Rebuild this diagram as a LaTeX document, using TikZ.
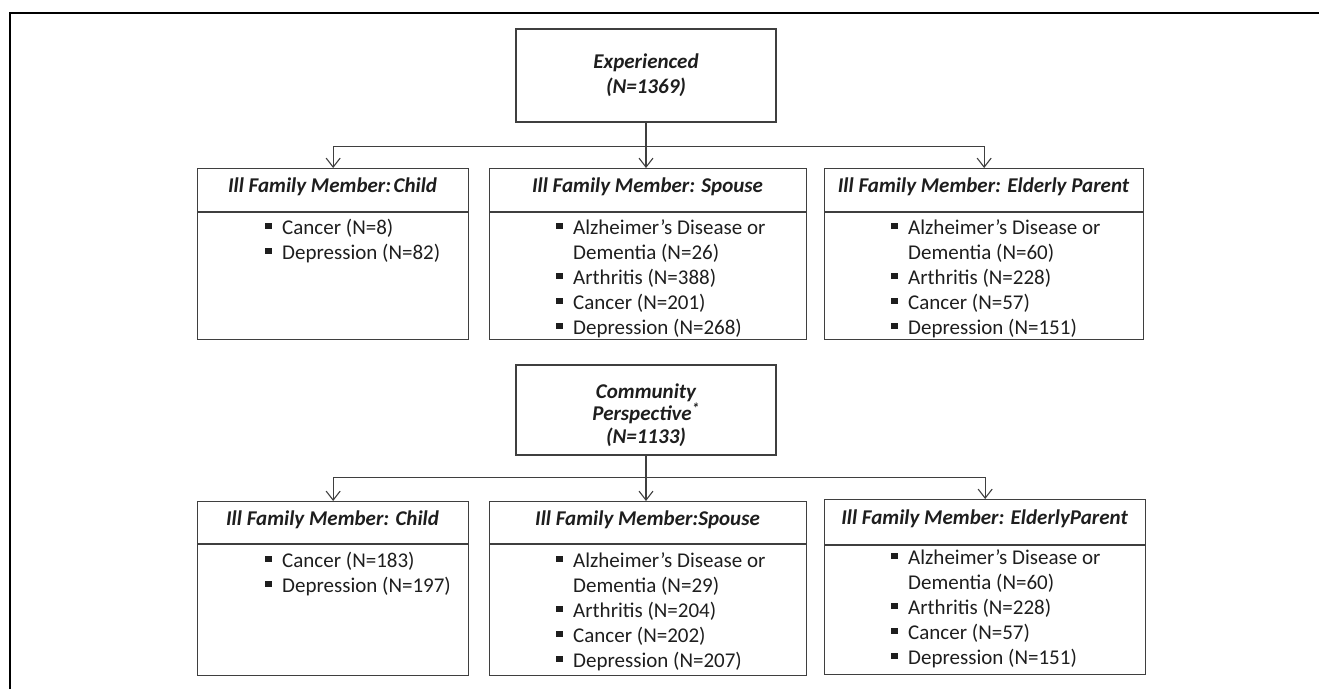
\documentclass[tikz,border=0pt]{standalone}
\usepackage{fontspec}
\setmainfont{Carlito}
\usetikzlibrary{arrows.meta,positioning}
\definecolor{boxgray}{HTML}{3F3F3F}
\definecolor{txtgray}{HTML}{1E1E1E}
% square bullet with hanging indent
\newcommand{\sqb}{\strut\makebox[17pt][l]{\rule[5.5pt]{6.5pt}{6.5pt}}}
\newcommand{\itm}[1]{\sqb#1}
\newcommand{\cont}[1]{\strut\hspace*{17pt}#1}

\begin{document}
\begin{tikzpicture}[
    x=1pt,y=-1pt,
    every node/.style={text=txtgray,font=\fontsize{21}{25}\selectfont},
    topbox/.style={rectangle,draw=boxgray,line width=1.3pt,inner sep=0pt,
                   minimum width=260pt,align=center,
                   font=\fontsize{21}{25}\selectfont\bfseries\itshape},
    toptext/.style={inner sep=0pt,align=center,
                    font=\fontsize{21}{22.5}\selectfont\bfseries\itshape},
    grpbox/.style={rectangle,draw=boxgray,line width=1.3pt,inner sep=0pt,
                   anchor=north west},
    head/.style={anchor=base,inner sep=0pt,
                 font=\fontsize{21}{25}\selectfont\bfseries\itshape},
    items/.style={anchor=north west,inner sep=0pt,align=left},
    sep/.style={draw=boxgray,line width=1.3pt},
    link/.style={draw=boxgray,line width=1.1pt},
    arr/.style={link,-{Straight Barb[length=9pt,width=14pt,line width=1.1pt]}}
  ]
    \useasboundingbox (0,0) rectangle (1319,689);

    % outer frame
    \draw[line width=2.6pt,black] (10,689) -- (10,13) -- (1319,13);

    % Experienced group
    \node[topbox,minimum height=93pt] (exp) at (646,75.5)
      {Experienced\\(N=1369)};

    \node[grpbox,minimum width=271pt,minimum height=171pt] (chA) at (197,168) {};
    \node[grpbox,minimum width=317pt,minimum height=171pt] (spA) at (489,168) {};
    \node[grpbox,minimum width=319pt,minimum height=171pt] (elA) at (824,168) {};

    \draw[sep] (chA.north west) ++(0,44) -- ++(271,0);
    \draw[sep] (spA.north west) ++(0,44) -- ++(317,0);
    \draw[sep] (elA.north west) ++(0,44) -- ++(319,0);

    \node[head] (chAh) at (332.5,192) {Ill Family Member:\hspace{0.12em}Child};
    \node[head] (spAh) at (647.5,192) {Ill Family Member: Spouse};
    \node[head] (elAh) at (983.5,192) {Ill Family Member: Elderly Parent};

    \node[items] (chAi) at (265,217)
      {\itm{Cancer (N=8)}\\\itm{Depression (N=82)}};
    \node[items] (spAi) at (556,217)
      {\itm{Alzheimer’s Disease or}\\\cont{Dementia (N=26)}\\
       \itm{Arthritis (N=388)}\\\itm{Cancer (N=201)}\\\itm{Depression (N=268)}};
    \node[items] (elAi) at (891,217)
      {\itm{Alzheimer’s Disease or}\\\cont{Dementia (N=60)}\\
       \itm{Arthritis (N=228)}\\\itm{Cancer (N=57)}\\\itm{Depression (N=151)}};

    \coordinate[below=24pt of exp.south] (busA);
    \draw[arr] (exp.south) -- (exp.south |- spA.north);
    \draw[arr] (busA) -| (chA.north);
    \draw[arr] (busA) -| (elA.north);

    % Community group
    \node[topbox,minimum height=90pt] (com) at (646,410) {};
    \node[toptext] (comtxt) at (646,415)
      {Community\\Perspective\textsuperscript{*}\\(N=1133)};

    \node[grpbox,minimum width=271pt,minimum height=174pt] (chB) at (197,501) {};
    \node[grpbox,minimum width=317pt,minimum height=174pt] (spB) at (489,501) {};
    \node[grpbox,minimum width=321pt,minimum height=175pt] (elB) at (824,499) {};

    \draw[sep] (chB.north west) ++(0,43) -- ++(271,0);
    \draw[sep] (spB.north west) ++(0,43) -- ++(317,0);
    \draw[sep] (elB.north west) ++(0,46) -- ++(321,0);

    \node[head] (chBh) at (332.5,525) {Ill Family Member: Child};
    \node[head] (spBh) at (647.5,525) {Ill Family Member:Spouse};
    \node[head] (elBh) at (984.5,524) {Ill Family Member: ElderlyParent};

    \node[items] (chBi) at (265,550)
      {\itm{Cancer (N=183)}\\\itm{Depression (N=197)}};
    \node[items] (spBi) at (556,550)
      {\itm{Alzheimer’s Disease or}\\\cont{Dementia (N=29)}\\
       \itm{Arthritis (N=204)}\\\itm{Cancer (N=202)}\\\itm{Depression (N=207)}};
    \node[items] (elBi) at (891,547)
      {\itm{Alzheimer’s Disease or}\\\cont{Dementia (N=60)}\\
       \itm{Arthritis (N=228)}\\\itm{Cancer (N=57)}\\\itm{Depression (N=151)}};

    \coordinate[below=22pt of com.south] (busB);
    \draw[arr] (com.south) -- (com.south |- spB.north);
    \draw[arr] (busB) -| (chB.north);
    \draw[arr] (busB) -| (elB.north);
  \end{tikzpicture}
\end{document}
